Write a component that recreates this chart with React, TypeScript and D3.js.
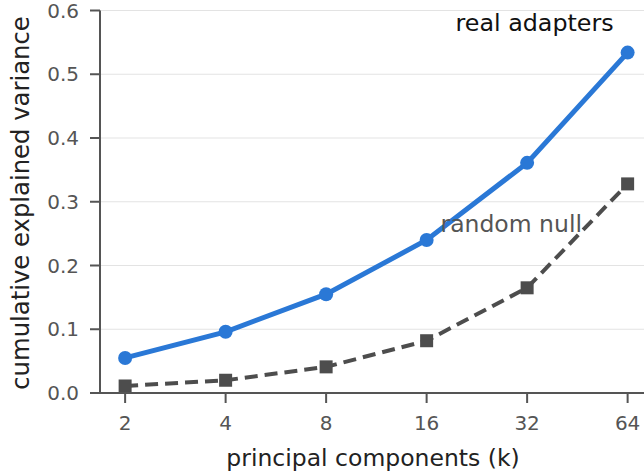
import React from "react";
import * as d3 from "d3";

const ks = [2, 4, 8, 16, 32, 64];
const realAdapters = [0.055, 0.096, 0.155, 0.24, 0.361, 0.534];
const randomNull = [0.011, 0.02, 0.041, 0.082, 0.165, 0.328];
const yTicks = [0, 0.1, 0.2, 0.3, 0.4, 0.5, 0.6];

const W = 644, H = 471;
const L = 100, B = 393, T = 10.5;
const octave = 100.5;

export default function App() {
  const x = d3.scaleLog().base(2).domain([Math.pow(2, 0.75), Math.pow(2, 6.25)]).range([L, L + 5.5 * octave]);
  const y = d3.scaleLinear().domain([0, 0.6]).range([B, T]);
  const line = d3.line<number>().x((_, i) => x(ks[i])).y((d) => y(d));
  const font = "'DejaVu Sans', Verdana, sans-serif";
  const axisColor = "#555555";
  return (
    <svg width={W} height={H} style={{ position: "absolute", left: 0, top: 0, fontFamily: font }}>
      <rect width={W} height={H} fill="#ffffff" />
      {yTicks.map((t) => (
        <line key={"g" + t} x1={L} x2={W} y1={y(t)} y2={y(t)} stroke="#e3e3e3" strokeWidth={1.2} />
      ))}
      <path d={line(randomNull) || ""} fill="none" stroke="#4d4d4d" strokeWidth={4} strokeDasharray="13,7" />
      {randomNull.map((v, i) => (
        <rect key={"s" + i} x={x(ks[i]) - 6.5} y={y(v) - 6.5} width={13} height={13} fill="#4d4d4d" />
      ))}
      <path d={line(realAdapters) || ""} fill="none" stroke="#2a78d6" strokeWidth={5} />
      {realAdapters.map((v, i) => (
        <circle key={"c" + i} cx={x(ks[i])} cy={y(v)} r={7} fill="#2a78d6" />
      ))}
      <line x1={L} x2={L} y1={T} y2={B} stroke={axisColor} strokeWidth={2} />
      <line x1={L} x2={W} y1={B} y2={B} stroke={axisColor} strokeWidth={2} />
      {yTicks.map((t) => (
        <g key={"y" + t}>
          <line x1={L - 10} x2={L} y1={y(t)} y2={y(t)} stroke={axisColor} strokeWidth={2} />
          <text x={L - 21} y={y(t)} dy="0.36em" textAnchor="end" fontSize={20} fill="#555555">
            {t.toFixed(1)}
          </text>
        </g>
      ))}
      {ks.map((k) => (
        <g key={"x" + k}>
          <line x1={x(k)} x2={x(k)} y1={B} y2={B + 10} stroke={axisColor} strokeWidth={2} />
          <text x={x(k)} y={430} textAnchor="middle" fontSize={20} fill="#555555">
            {k}
          </text>
        </g>
      ))}
      <text x={373} y={466} textAnchor="middle" fontSize={23.5} fill="#222222">
        principal components (k)
      </text>
      <text transform={`translate(28.5,203) rotate(-90)`} textAnchor="middle" fontSize={24.3} fill="#222222">
        cumulative explained variance
      </text>
      <text x={455.5} y={31} fontSize={23.8} fill="#111111">real adapters</text>
      <text x={440.5} y={231.5} fontSize={23.5} fill="#555555">random null</text>
    </svg>
  );
}
